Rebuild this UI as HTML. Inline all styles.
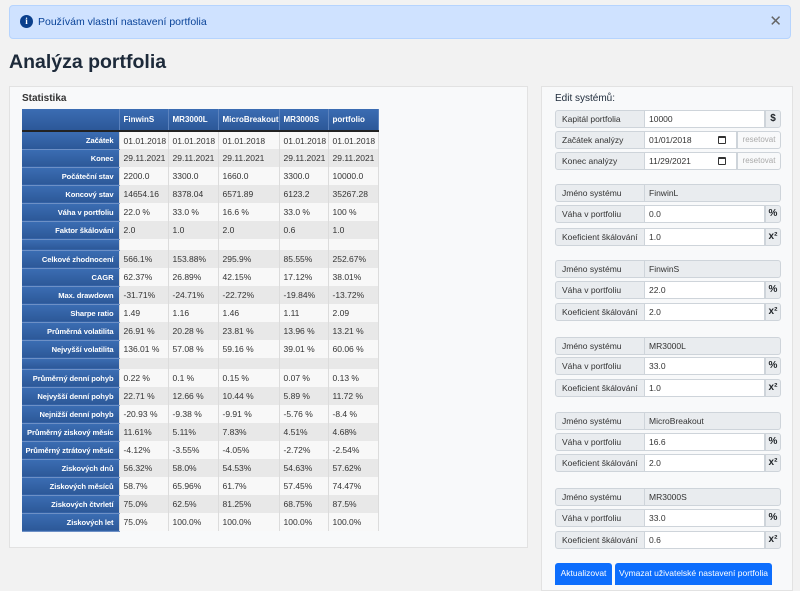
<!DOCTYPE html>
<html><head><meta charset="utf-8">
<style>
*{box-sizing:border-box;margin:0;padding:0}
body{width:800px;height:585px;overflow:hidden;background:#f2f2f2;font-family:"Liberation Sans",sans-serif;position:relative;color:#212529}
.alert{position:absolute;left:9px;top:5px;width:782px;height:34px;background:#cfe2ff;border:1px solid #b6d4fe;border-radius:4px;color:#084298;font-size:10.5px;line-height:32px;padding-left:28px}
.alert .i{position:absolute;left:10px;top:9px;width:13px;height:13px;border-radius:50%;background:#0a3f8c;color:#fff;font-size:9px;line-height:13px;text-align:center;font-weight:bold;font-family:"Liberation Serif",serif}
.alert .x{position:absolute;right:8px;top:0;font-size:15px;color:#666;line-height:32px}
h1{position:absolute;left:9px;top:51px;font-size:19.5px;font-weight:bold;color:#1d2a3a}
.card{position:absolute;background:#f8f9fa;border:1px solid #e2e2e2}
.ttl{position:absolute;font-size:10px;font-weight:bold;color:#333}
table{position:absolute;left:22px;top:109px;width:356px;border-collapse:collapse;font-size:8.5px;table-layout:fixed}
td,th{height:18px;padding:0 0 0 4px;white-space:nowrap;overflow:hidden;border-right:1px solid #dcdcdc;color:#333}
th{background:linear-gradient(#3b6db3,#2c5898);color:#fff;font-weight:bold;text-align:left;height:22px;border-right:1px solid #5b82bd;border-bottom:2px solid #222;font-size:8px}
td.l{background:linear-gradient(#3b6db3,#2c5898);color:#fff;font-weight:bold;text-align:right;padding:0 5px 0 0;border-bottom:1px solid #6d90c6;font-size:7.6px;letter-spacing:-0.1px}
tr:nth-child(odd) td{background-color:#e8e8e8}
tr:nth-child(even) td{background-color:#f8f8f8}
tr td.l{background:linear-gradient(#3b6db3,#2c5898)!important}
tr.b td{height:11px}
.row{position:absolute;left:555px;width:226px;height:18px;font-size:8.5px}
.row .lab{position:absolute;left:0;top:0;width:90px;height:18px;background:#e9ecef;border:1px solid #ced4da;border-radius:3px 0 0 3px;line-height:16px;padding-left:6px;color:#333;white-space:nowrap;overflow:hidden}
.row .inp{position:absolute;left:90px;top:0;height:18px;background:#fff;border:1px solid #ced4da;border-left:none;line-height:16px;padding-left:4px;color:#333}
.row .ad{position:absolute;right:0;top:0;width:16px;height:18px;background:#e9ecef;border:1px solid #ced4da;border-radius:0 3px 3px 0;text-align:center;font-weight:bold;line-height:16px;font-size:10px}
.row .rs{position:absolute;left:182px;top:0;width:44px;height:18px;border:1px solid #ced4da;border-radius:0 3px 3px 0;text-align:center;color:#aaa;line-height:16px;font-size:8px;background:#f8f9fa}
.row .cal{position:absolute;left:163px;top:5px;width:8px;height:8px;border:1.5px solid #333;border-top-width:2.5px;border-radius:1px}
.row.n .inp{background:#e9ecef;width:136px;border-radius:0 3px 3px 0}
.btn{position:absolute;top:563px;height:22px;background:#0d6efd;color:#fff;font-size:8.5px;line-height:20px;text-align:center;border-radius:3px 3px 0 0;white-space:nowrap}
</style></head><body>
<div class="alert"><span class="i">i</span>Používám vlastní nastavení portfolia<span class="x">✕</span></div>
<h1>Analýza portfolia</h1>
<div class="card" style="left:9px;top:86px;width:519px;height:462px"></div>
<div class="ttl" style="left:22px;top:93px">Statistika</div>
<table>
<colgroup><col style="width:97px"><col style="width:49px"><col style="width:50px"><col style="width:61px"><col style="width:49px"><col style="width:50px"></colgroup>
<tr><th></th><th>FinwinS</th><th>MR3000L</th><th>MicroBreakout</th><th>MR3000S</th><th>portfolio</th></tr>
<tr><td class="l">Začátek</td><td>01.01.2018</td><td>01.01.2018</td><td>01.01.2018</td><td>01.01.2018</td><td>01.01.2018</td></tr>
<tr><td class="l">Konec</td><td>29.11.2021</td><td>29.11.2021</td><td>29.11.2021</td><td>29.11.2021</td><td>29.11.2021</td></tr>
<tr><td class="l">Počáteční stav</td><td>2200.0</td><td>3300.0</td><td>1660.0</td><td>3300.0</td><td>10000.0</td></tr>
<tr><td class="l">Koncový stav</td><td>14654.16</td><td>8378.04</td><td>6571.89</td><td>6123.2</td><td>35267.28</td></tr>
<tr><td class="l">Váha v portfoliu</td><td>22.0 %</td><td>33.0 %</td><td>16.6 %</td><td>33.0 %</td><td>100 %</td></tr>
<tr><td class="l">Faktor škálování</td><td>2.0</td><td>1.0</td><td>2.0</td><td>0.6</td><td>1.0</td></tr>
<tr class="b"><td class="l"></td><td></td><td></td><td></td><td></td><td></td></tr>
<tr><td class="l">Celkové zhodnocení</td><td>566.1%</td><td>153.88%</td><td>295.9%</td><td>85.55%</td><td>252.67%</td></tr>
<tr><td class="l">CAGR</td><td>62.37%</td><td>26.89%</td><td>42.15%</td><td>17.12%</td><td>38.01%</td></tr>
<tr><td class="l">Max. drawdown</td><td>-31.71%</td><td>-24.71%</td><td>-22.72%</td><td>-19.84%</td><td>-13.72%</td></tr>
<tr><td class="l">Sharpe ratio</td><td>1.49</td><td>1.16</td><td>1.46</td><td>1.11</td><td>2.09</td></tr>
<tr><td class="l">Průměrná volatilita</td><td>26.91 %</td><td>20.28 %</td><td>23.81 %</td><td>13.96 %</td><td>13.21 %</td></tr>
<tr><td class="l">Nejvyšší volatilita</td><td>136.01 %</td><td>57.08 %</td><td>59.16 %</td><td>39.01 %</td><td>60.06 %</td></tr>
<tr class="b"><td class="l"></td><td></td><td></td><td></td><td></td><td></td></tr>
<tr><td class="l">Průměrný denní pohyb</td><td>0.22 %</td><td>0.1 %</td><td>0.15 %</td><td>0.07 %</td><td>0.13 %</td></tr>
<tr><td class="l">Nejvyšší denní pohyb</td><td>22.71 %</td><td>12.66 %</td><td>10.44 %</td><td>5.89 %</td><td>11.72 %</td></tr>
<tr><td class="l">Nejnižší denní pohyb</td><td>-20.93 %</td><td>-9.38 %</td><td>-9.91 %</td><td>-5.76 %</td><td>-8.4 %</td></tr>
<tr><td class="l">Průměrný ziskový měsíc</td><td>11.61%</td><td>5.11%</td><td>7.83%</td><td>4.51%</td><td>4.68%</td></tr>
<tr><td class="l">Průměrný ztrátový měsíc</td><td>-4.12%</td><td>-3.55%</td><td>-4.05%</td><td>-2.72%</td><td>-2.54%</td></tr>
<tr><td class="l">Ziskových dnů</td><td>56.32%</td><td>58.0%</td><td>54.53%</td><td>54.63%</td><td>57.62%</td></tr>
<tr><td class="l">Ziskových měsíců</td><td>58.7%</td><td>65.96%</td><td>61.7%</td><td>57.45%</td><td>74.47%</td></tr>
<tr><td class="l">Ziskových čtvrletí</td><td>75.0%</td><td>62.5%</td><td>81.25%</td><td>68.75%</td><td>87.5%</td></tr>
<tr><td class="l">Ziskových let</td><td>75.0%</td><td>100.0%</td><td>100.0%</td><td>100.0%</td><td>100.0%</td></tr>
</table>

<div class="card" style="left:541px;top:86px;width:252px;height:505px"></div>
<div class="ttl" style="left:555px;top:93px;font-weight:normal;color:#1d2a3a;font-size:10px">Edit systémů:</div>

<div class="row" style="top:110px"><div class="lab">Kapitál portfolia</div><div class="inp" style="width:120px">10000</div><div class="ad">$</div></div>
<div class="row" style="top:131px"><div class="lab">Začátek analýzy</div><div class="inp" style="width:92px">01/01/2018</div><div class="cal"></div><div class="rs">resetovat</div></div>
<div class="row" style="top:152px"><div class="lab">Konec analýzy</div><div class="inp" style="width:92px">11/29/2021</div><div class="cal"></div><div class="rs">resetovat</div></div>

<div class="row n" style="top:184px"><div class="lab">Jméno systému</div><div class="inp">FinwinL</div></div>
<div class="row" style="top:205px"><div class="lab">Váha v portfoliu</div><div class="inp" style="width:120px">0.0</div><div class="ad">%</div></div>
<div class="row" style="top:228px"><div class="lab">Koeficient škálování</div><div class="inp" style="width:120px">1.0</div><div class="ad">x²</div></div>

<div class="row n" style="top:260px"><div class="lab">Jméno systému</div><div class="inp">FinwinS</div></div>
<div class="row" style="top:281px"><div class="lab">Váha v portfoliu</div><div class="inp" style="width:120px">22.0</div><div class="ad">%</div></div>
<div class="row" style="top:303px"><div class="lab">Koeficient škálování</div><div class="inp" style="width:120px">2.0</div><div class="ad">x²</div></div>

<div class="row n" style="top:337px"><div class="lab">Jméno systému</div><div class="inp">MR3000L</div></div>
<div class="row" style="top:357px"><div class="lab">Váha v portfoliu</div><div class="inp" style="width:120px">33.0</div><div class="ad">%</div></div>
<div class="row" style="top:379px"><div class="lab">Koeficient škálování</div><div class="inp" style="width:120px">1.0</div><div class="ad">x²</div></div>

<div class="row n" style="top:412px"><div class="lab">Jméno systému</div><div class="inp">MicroBreakout</div></div>
<div class="row" style="top:433px"><div class="lab">Váha v portfoliu</div><div class="inp" style="width:120px">16.6</div><div class="ad">%</div></div>
<div class="row" style="top:454px"><div class="lab">Koeficient škálování</div><div class="inp" style="width:120px">2.0</div><div class="ad">x²</div></div>

<div class="row n" style="top:488px"><div class="lab">Jméno systému</div><div class="inp">MR3000S</div></div>
<div class="row" style="top:509px"><div class="lab">Váha v portfoliu</div><div class="inp" style="width:120px">33.0</div><div class="ad">%</div></div>
<div class="row" style="top:531px"><div class="lab">Koeficient škálování</div><div class="inp" style="width:120px">0.6</div><div class="ad">x²</div></div>

<div class="btn" style="left:555px;width:57px">Aktualizovat</div>
<div class="btn" style="left:615px;width:157px">Vymazat uživatelské nastavení portfolia</div>
</body></html>
